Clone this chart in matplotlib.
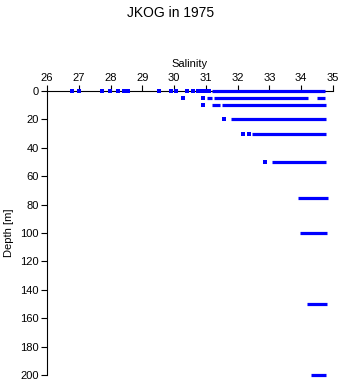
import matplotlib
matplotlib.use("Agg")
import matplotlib.pyplot as plt

plt.rcParams['font.family'] = ['Liberation Sans', 'DejaVu Sans']

# isolated observations: depth [m], salinity
pt_depth = [0, 0, 0, 0, 0, 0, 0, 0, 0, 0, 0, 0, 0, 0, 0, 0,
            5, 5, 10, 20, 30, 30, 50]
pt_sal = [26.79, 27.0, 27.73, 27.98, 28.23, 28.42, 28.55, 29.52, 29.9, 30.06,
          30.4, 30.6, 30.75, 30.85, 30.98, 31.1,
          30.28, 30.9, 30.9, 31.57, 32.17, 32.35, 32.86]

# densely sampled stretches: depth, salinity start, salinity end
seg_depth = [0, 5, 5, 5, 10, 10, 20, 30, 50, 75, 100, 150, 200]
seg_lo = [31.2, 31.03, 31.25, 34.5, 31.2, 31.5, 31.8, 32.45, 33.07, 33.9, 33.96, 34.18, 34.3]
seg_hi = [34.75, 31.2, 34.2, 34.75, 31.45, 34.77, 34.77, 34.77, 34.77, 34.84, 34.8, 34.8, 34.77]

fig = plt.figure(figsize=(3.41, 3.84), dpi=100)
ax = fig.add_axes([47/341, 9/384, 286/341, 284/384])

ax.hlines(seg_depth, seg_lo, seg_hi, colors='#0000ff', linewidth=2.3,
          zorder=3, clip_on=False)
ax.plot(pt_sal, pt_depth, 's', color='#0000ff', markersize=2.3,
        markeredgewidth=0, zorder=3, clip_on=False)

ax.set_xlim(26, 35)
ax.set_ylim(200, 0)
ax.xaxis.tick_top()
ax.xaxis.set_label_position('top')
ax.set_xticks(range(26, 36))
ax.set_yticks(range(0, 201, 20))
ax.spines['right'].set_visible(False)
ax.spines['bottom'].set_visible(False)
ax.tick_params(labelsize=8, length=4, width=0.8, pad=2)
ax.set_xlabel('Salinity', fontsize=8, labelpad=4)
ax.set_ylabel('Depth [m]', fontsize=8, labelpad=4)
fig.suptitle('JKOG in 1975', fontsize=10, y=0.985)

fig.savefig('out.png', dpi=100)
